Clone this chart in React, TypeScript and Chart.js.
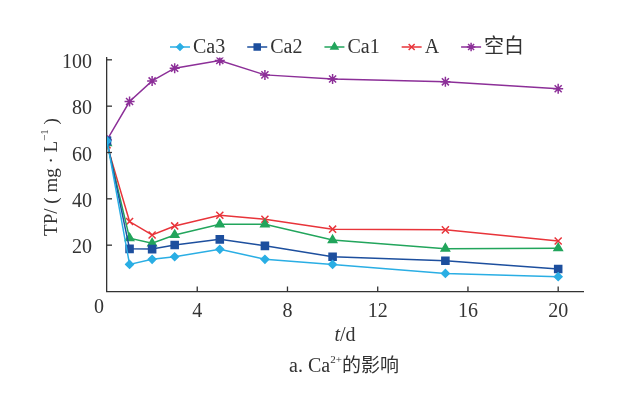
import React, { useEffect, useRef } from "react";
import { Chart, registerables } from "chart.js";
import { drawPoint } from "chart.js/helpers";

Chart.register(...registerables);

const days = [0, 1, 2, 3, 5, 7, 10, 15, 20];
const seriesNames = ["Ca3", "Ca2", "Ca1", "A", "空白"];
const ca3 = [65, 11.7, 13.9, 15.0, 18.2, 13.9, 11.7, 7.8, 6.4];
const ca2 = [65, 18.4, 18.3, 20.1, 22.5, 19.7, 15.0, 13.3, 9.7];
const ca1 = [64, 23.0, 20.8, 24.4, 29.0, 29.0, 22.2, 18.5, 18.7];
const seriesA = [63.3, 30.2, 24.4, 28.3, 32.9, 31.2, 26.9, 26.6, 21.8];
const blank = [65.4, 82.0, 90.9, 96.4, 99.7, 93.5, 91.7, 90.5, 87.5];
const xTicks = [0, 4, 8, 12, 16, 20];
const yTicks = [20, 40, 60, 80, 100];

const colors = ["#2aaee4", "#1d4f9e", "#22a55c", "#e8343a", "#8c2f98"];
const styles = ["rectRot", "rect", "triangle", "crossRot", "star"];
const radii = [3.8, 5, 4.8, 5, 5];

const SERIF = "'Liberation Serif', 'Times New Roman', serif";
const CJK = "'Liberation Serif', 'Noto Sans CJK SC', serif";

const decorPlugin = {
  id: "decor",
  afterDraw(chart: any) {
    const ctx = chart.ctx as CanvasRenderingContext2D;
    const xs = chart.scales.x;
    const ys = chart.scales.y;
    const area = chart.chartArea;
    ctx.save();
    // inward ticks
    ctx.strokeStyle = "#333";
    ctx.lineWidth = 1.3;
    xTicks.forEach((v) => {
      if (v === 0) return;
      const px = xs.getPixelForValue(v);
      ctx.beginPath();
      ctx.moveTo(px, area.bottom);
      ctx.lineTo(px, area.bottom - 5);
      ctx.stroke();
    });
    yTicks.forEach((v) => {
      const py = ys.getPixelForValue(v);
      ctx.beginPath();
      ctx.moveTo(area.left, py);
      ctx.lineTo(area.left + 5, py);
      ctx.stroke();
    });

    // origin label
    ctx.fillStyle = "#333";
    ctx.font = `20px ${SERIF}`;
    ctx.textAlign = "center";
    ctx.textBaseline = "middle";
    ctx.fillText("0", area.left - 8, area.bottom + 16);

    // legend
    let x0 = 170;
    const ly = 47;
    ctx.textAlign = "left";
    ctx.textBaseline = "middle";
    chart.data.datasets.forEach((ds: any, i: number) => {
      ctx.strokeStyle = colors[i];
      ctx.lineWidth = 1.5;
      ctx.beginPath();
      ctx.moveTo(x0, ly);
      ctx.lineTo(x0 + 20, ly);
      ctx.stroke();
      ctx.fillStyle = colors[i];
      drawPoint(
        ctx,
        { pointStyle: styles[i], radius: radii[i] * 0.85, rotation: 0, borderWidth: 1.5 } as any,
        x0 + 10,
        ly
      );
      ctx.fillStyle = "#333";
      ctx.font = `20px ${CJK}`;
      ctx.fillText(ds.label, x0 + 23, ly + 1);
      x0 += 23 + ctx.measureText(ds.label).width + 22;
    });

    // y title (rotated)
    ctx.save();
    ctx.translate(52, 177);
    ctx.rotate(-Math.PI / 2);
    const parts: [string, string, number][] = [
      ["TP/ ( mg · L", `19px ${SERIF}`, 0],
      ["−1", `11px ${SERIF}`, -7],
      [" )", `19px ${SERIF}`, 0],
    ];
    let total = 0;
    parts.forEach(([t, f]) => {
      ctx.font = f;
      total += ctx.measureText(t).width;
    });
    let cx = -total / 2;
    ctx.textAlign = "left";
    ctx.textBaseline = "middle";
    ctx.fillStyle = "#333";
    parts.forEach(([t, f, dy]) => {
      ctx.font = f;
      ctx.fillText(t, cx, dy);
      cx += ctx.measureText(t).width;
    });
    ctx.restore();

    const drawParts = (p: [string, string, number][], cxm: number, cy: number) => {
      let tot = 0;
      p.forEach(([t, f]) => {
        ctx.font = f;
        tot += ctx.measureText(t).width;
      });
      let xx = cxm - tot / 2;
      ctx.textAlign = "left";
      ctx.textBaseline = "middle";
      p.forEach(([t, f, dy]) => {
        ctx.font = f;
        ctx.fillText(t, xx, cy + dy);
        xx += ctx.measureText(t).width;
      });
    };
    // x title
    drawParts(
      [
        ["t", `italic 20px ${SERIF}`, 0],
        ["/d", `20px ${SERIF}`, 0],
      ],
      345,
      336
    );
    // caption
    drawParts(
      [
        ["a. Ca", `20px ${CJK}`, 0],
        ["2+", `11px ${SERIF}`, -7],
        ["的影响", `19px ${CJK}`, 0],
      ],
      344,
      367
    );
    ctx.restore();
  },
};

export default function App() {
  const ref = useRef<HTMLCanvasElement | null>(null);
  useEffect(() => {
    if (!ref.current) return;
    const all = [ca3, ca2, ca1, seriesA, blank];
    const chart = new Chart(ref.current, {
      type: "line",
      data: {
        datasets: all.map((vals, i) => ({
          label: seriesNames[i],
          data: days.map((d, j) => ({ x: d, y: vals[j] })),
          borderColor: colors[i],
          backgroundColor: colors[i],
          pointBorderColor: colors[i],
          pointBackgroundColor: colors[i],
          pointStyle: styles[i] as any,
          pointRadius: radii[i],
          pointBorderWidth: 1.5,
          borderWidth: 1.5,
          tension: 0,
        })),
      },
      options: {
        animation: false,
        responsive: true,
        maintainAspectRatio: false,
        layout: { padding: { top: 57.5, right: 46, left: 0, bottom: 0 } },
        plugins: { legend: { display: false }, tooltip: { enabled: false } },
        scales: {
          x: {
            type: "linear",
            min: 0,
            max: 21.1,
            afterBuildTicks: (s: any) => {
              s.ticks = xTicks.map((v) => ({ value: v }));
            },
            afterFit: (s: any) => {
              s.height = 106.5;
            },
            grid: { display: false },
            border: { display: true, color: "#333", width: 1.3 },
            ticks: {
              padding: 0,
              maxRotation: 0,
              color: "#333",
              font: { family: SERIF, size: 20 },
              callback: (v: any) => (v === 0 ? "" : String(v)),
            },
          },
          y: {
            type: "linear",
            min: 0,
            max: 101,
            afterBuildTicks: (s: any) => {
              s.ticks = yTicks.map((v) => ({ value: v }));
            },
            afterFit: (s: any) => {
              s.width = 107;
            },
            grid: { display: false },
            border: { display: true, color: "#333", width: 1.3 },
            ticks: {
              padding: 7,
              labelOffset: 3,
              color: "#333",
              font: { family: SERIF, size: 20 },
              callback: (v: any) => String(v),
            },
          },
        },
      },
      plugins: [decorPlugin],
    });
    return () => chart.destroy();
  }, []);
  return (
    <div style={{ position: "absolute", left: 0, top: 0, width: 629, height: 398, background: "#fff" }}>
      <canvas ref={ref} />
    </div>
  );
}
